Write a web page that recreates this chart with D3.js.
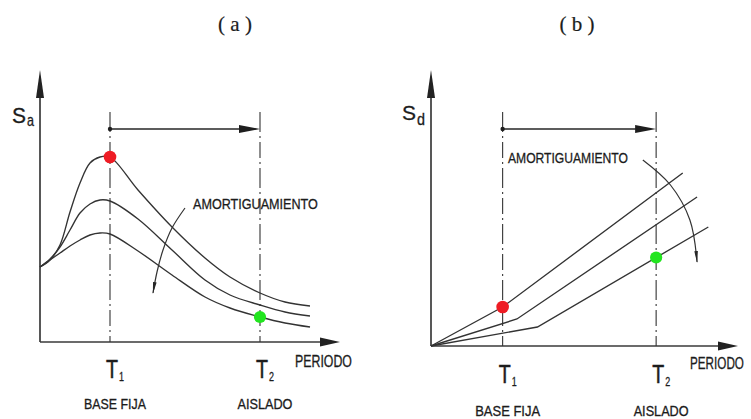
<!DOCTYPE html>
<html>
<head>
<meta charset="utf-8">
<script src="https://cdn.jsdelivr.net/npm/d3@7"></script>
<style>
  body { margin: 0; background: #fff; }
  svg { display: block; }
</style>
</head>
<body>
<svg id="chart" width="751" height="419"></svg>
<script>
// ---- Panel (a): spectral acceleration Sa vs period, three damping levels ----
const periodA = [0, 0.1, 0.2, 0.3, 0.4, 0.5, 0.6, 0.7, 0.98, 1.32, 1.65, 1.9, 2.2, 2.45, 2.7];
const saLowDamping  = [0.75, 0.82, 0.97, 1.30, 1.59, 1.79, 1.85, 1.85, 1.52, 1.15, 0.84, 0.65, 0.49, 0.40, 0.36];
const saMidDamping  = [0.75, 0.83, 0.95, 1.12, 1.29, 1.38, 1.42, 1.41, 1.23, 0.92, 0.62, 0.47, 0.37, 0.30, 0.26];
const saHighDamping = [0.75, 0.82, 0.89, 0.96, 1.02, 1.07, 1.09, 1.08, 0.91, 0.67, 0.45, 0.34, 0.25, 0.19, 0.15];

// ---- Panel (b): spectral displacement Sd vs period ----
const periodSdLow  = [0, 0.7, 2.46];
const sdLowDamping = [0, 0.39, 1.73];
const periodSdMid  = [0, 0.84, 2.6];
const sdMidDamping = [0, 0.27, 1.49];
const periodSdHigh = [0, 1.04, 2.71];
const sdHighDamping = [0, 0.19, 1.19];

// Periods of the fixed-base and isolated structure
const periods = [0.7, 2.2];
const periodNames = ["T", "T"];
const periodSubs = ["1", "2"];
const periodLabels = ["BASE FIJA", "AISLADO"];

// Highlighted response points: fixed base (red), isolated (green)
const pointsA = [0.7, 1.85, 2.2, 0.25];  // [T1, Sa1, T2, Sa2]
const pointsB = [0.7, 0.39, 2.2, 0.885]; // [T1, Sd1, T2, Sd2]

// Damping annotation arcs
const dampArcAPeriod = [1.45, 1.32, 1.23, 1.17, 1.13];
const dampArcASa     = [1.34, 1.14, 0.92, 0.70, 0.49];
const dampArcBPeriod = [2.07, 2.34, 2.53, 2.60];
const dampArcBSd     = [1.86, 1.61, 1.26, 0.84];

const panelTitles = ["( a )", "( b )"];
const yTitles = [["S", "a"], ["S", "d"]];
const xTitle = "PERIODO";
const dampingText = "AMORTIGUAMIENTO";

// Level of the period-shift arrow and top of the period guide lines
const shiftLevelA = 2.13, guideTopA = 2.30;
const shiftLevelB = 2.17, guideTopB = 2.34;

const svg = d3.select("#chart");
const ink = "#262626";
const narrowFont = "'Liberation Sans Narrow','Arial Narrow','Liberation Sans',Arial,sans-serif";

const defs = svg.append("defs");
defs.append("marker")
  .attr("id", "dampHead")
  .attr("viewBox", "0 0 12 6")
  .attr("refX", 11).attr("refY", 3)
  .attr("markerWidth", 12).attr("markerHeight", 6)
  .attr("markerUnits", "userSpaceOnUse")
  .attr("orient", "auto")
  .append("path").attr("d", "M0,1.2 L12,3 L0,4.8 Z").attr("fill", ink);

// Text squeezed horizontally to a given width with a scale transform
function txt(g, x, y, s, size, len, anchor, family, weight) {
  const t = g.append("text")
    .attr("x", 0).attr("y", 0)
    .attr("font-family", family || narrowFont)
    .attr("font-size", size)
    .attr("fill", "#1c1c1c")
    .attr("stroke", "#1c1c1c")
    .attr("stroke-width", weight == null ? 0.3 : weight)
    .attr("text-anchor", anchor || "start")
    .text(s);
  let sx = 1;
  if (len) {
    const w = t.node().getComputedTextLength();
    if (w > 0) sx = len / w;
  }
  t.attr("transform", `translate(${x},${y}) scale(${sx},1)`);
  return t;
}

function drawPanel(cfg) {
  const g = svg.append("g");
  const { x, y } = cfg;
  const x0 = x.range()[0], xEnd = x.range()[1];
  const y0 = y.range()[0], yTop = y.range()[1];

  // axes with arrowheads
  g.append("line").attr("x1", x0).attr("x2", xEnd - 6).attr("y1", y0).attr("y2", y0)
    .attr("stroke", "#3a3a3a").attr("stroke-width", 1.7);
  g.append("line").attr("x1", x0).attr("x2", x0).attr("y1", y0).attr("y2", yTop + 8)
    .attr("stroke", "#3a3a3a").attr("stroke-width", 1.7);
  g.append("path")
    .attr("d", `M${xEnd},${y0} L${xEnd - 20},${y0 - 4.5} L${xEnd - 20},${y0 + 4.5} Z`)
    .attr("fill", "#222");
  g.append("path")
    .attr("d", `M${x0},${yTop} L${x0 - 4},${yTop + 28} L${x0 + 4},${yTop + 28} Z`)
    .attr("fill", "#222");

  // vertical period guides (dash-dot)
  periods.forEach(p => {
    g.append("line")
      .attr("x1", x(p)).attr("x2", x(p))
      .attr("y1", y(cfg.guideTop)).attr("y2", y0)
      .attr("stroke", "#333").attr("stroke-width", 1.1)
      .attr("stroke-dasharray", "20,4,2,4,16,4,2,4");
  });

  // period shift arrow T1 -> T2
  const ys = y(cfg.shiftLevel);
  g.append("line").attr("x1", x(periods[0])).attr("x2", x(periods[1]) - 14)
    .attr("y1", ys).attr("y2", ys).attr("stroke", ink).attr("stroke-width", 1.5);
  g.append("path")
    .attr("d", `M${x(periods[1])},${ys} L${x(periods[1]) - 21},${ys - 4} L${x(periods[1]) - 21},${ys + 4} Z`)
    .attr("fill", "#1e1e1e");
  g.append("circle").attr("cx", x(periods[0])).attr("cy", ys).attr("r", 2.2).attr("fill", "#1e1e1e");

  // response curves
  cfg.series.forEach(s => {
    const line = d3.line().x(d => x(d[0])).y(d => y(d[1])).curve(cfg.curve);
    g.append("path")
      .attr("d", line(d3.zip(s.p, s.v)))
      .attr("fill", "none").attr("stroke", "#333").attr("stroke-width", 1.35);
  });

  // damping arc with arrow
  const arc = d3.line().x(d => x(d[0])).y(d => y(d[1])).curve(d3.curveCatmullRom);
  g.append("path")
    .attr("d", arc(d3.zip(cfg.arcP, cfg.arcV)))
    .attr("fill", "none").attr("stroke", "#333").attr("stroke-width", 1.2)
    .attr("marker-end", "url(#dampHead)");

  // highlighted points
  const pts = cfg.points;
  g.append("circle").attr("cx", x(pts[0])).attr("cy", y(pts[1])).attr("r", 6.3).attr("fill", "#ee1c24");
  g.append("circle").attr("cx", x(pts[2])).attr("cy", y(pts[3])).attr("r", 6.1).attr("fill", "#22e51f");

  return g;
}

// Panel (a)
const xA = d3.scaleLinear().domain([0, 3]).range([40, 340]);
const yA = d3.scaleLinear().domain([0, 2.72]).range([342, 70]);
const gA = drawPanel({
  x: xA, y: yA,
  guideTop: guideTopA, shiftLevel: shiftLevelA,
  curve: d3.curveCatmullRom.alpha(0.5),
  series: [
    { p: periodA, v: saLowDamping },
    { p: periodA, v: saMidDamping },
    { p: periodA, v: saHighDamping }
  ],
  arcP: dampArcAPeriod, arcV: dampArcASa,
  points: pointsA
});

// Panel (b)
const xB = d3.scaleLinear().domain([0, 3]).range([431, 738]);
const yB = d3.scaleLinear().domain([0, 2.76]).range([346, 70]);
const gB = drawPanel({
  x: xB, y: yB,
  guideTop: guideTopB, shiftLevel: shiftLevelB,
  curve: d3.curveLinear,
  series: [
    { p: periodSdLow, v: sdLowDamping },
    { p: periodSdMid, v: sdMidDamping },
    { p: periodSdHigh, v: sdHighDamping }
  ],
  arcP: dampArcBPeriod, arcV: dampArcBSd,
  points: pointsB
});

// ---- Texts ----
const serif = "'Liberation Serif','Times New Roman',serif";
txt(svg, 235, 31, panelTitles[0], 21, null, "middle", serif, 0.2);
txt(svg, 577, 31, panelTitles[1], 21, null, "middle", serif, 0.2);

// y-axis titles
txt(gA, 12, 123, yTitles[0][0], 22, 14);
txt(gA, 27, 126, yTitles[0][1], 16, 7);
txt(gB, 402, 120, yTitles[1][0], 21, 14);
txt(gB, 417, 125, yTitles[1][1], 16, 8);

// x-axis titles
txt(gA, 295, 367, xTitle, 16, 57);
txt(gB, 690, 369, xTitle, 16, 54);

// damping labels
txt(gA, 193, 209, dampingText, 15, 125);
txt(gB, 508, 163, dampingText, 15, 120);

// period ticks and labels
[[gA, xA, 378, 409, [62, 55]], [gB, xB, 383, 416, [65, 55]]].forEach(([g, x, tBase, lBase, lens]) => {
  periods.forEach((p, i) => {
    txt(g, x(p) - 4, tBase, periodNames[i], 25, 12, "start", null, 0.5);
    txt(g, x(p) + 9, tBase + 3, periodSubs[i], 12, 5);
    txt(g, x(p) + 5, lBase, periodLabels[i], 14, lens[i], "middle");
  });
});
</script>
</body>
</html>
